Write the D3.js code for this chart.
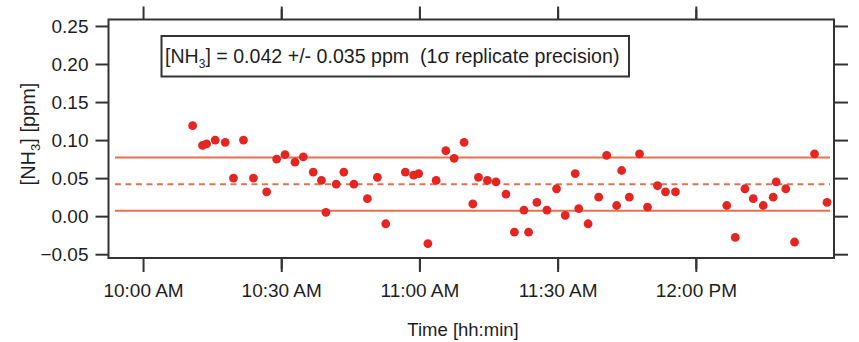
<!DOCTYPE html>
<html>
<head>
<meta charset="utf-8">
<script src="https://cdn.jsdelivr.net/npm/d3@7"></script>
<style>
  body { margin: 0; background: #fff; }
  text { font-family: "Liberation Sans", Arial, Helvetica, sans-serif; fill: #1e1e1e; }
</style>
</head>
<body>
<svg id="chart"></svg>
<script>
// measurement times (hh:mm:ss) and NH3 values in ppm
const times = [
  "10:10:46", "10:12:55", "10:13:47", "10:15:40", "10:17:50", "10:19:38", "10:21:48", "10:23:58",
  "10:26:50", "10:29:00", "10:30:49", "10:32:59", "10:34:47", "10:36:57", "10:38:44", "10:39:42",
  "10:41:56", "10:43:35", "10:45:46", "10:48:42", "10:50:52", "10:52:41", "10:56:56", "10:58:44",
  "10:59:50", "11:01:50", "11:03:38", "11:05:44", "11:07:32", "11:09:42", "11:11:35", "11:12:49",
  "11:14:46", "11:16:37", "11:18:47", "11:20:37", "11:22:41", "11:23:42", "11:25:30", "11:27:40",
  "11:29:46", "11:31:39", "11:33:49", "11:34:35", "11:36:37", "11:38:55", "11:40:39", "11:42:49",
  "11:43:54", "11:45:34", "11:47:47", "11:49:31", "11:51:41", "11:53:25", "11:55:35", "12:06:43",
  "12:08:34", "12:10:40", "12:12:28", "12:14:38", "12:16:48", "12:17:27", "12:19:32", "12:21:26",
  "12:25:46", "12:28:29"
];
const nh3 = [
  0.119, 0.093, 0.095, 0.100, 0.097, 0.050, 0.100, 0.050,
  0.032, 0.075, 0.081, 0.071, 0.078, 0.058, 0.047, 0.005,
  0.042, 0.058, 0.042, 0.023, 0.051, -0.010, 0.058, 0.054,
  0.056, -0.036, 0.047, 0.086, 0.076, 0.097, 0.016, 0.051,
  0.047, 0.045, 0.029, -0.021, 0.008, -0.021, 0.018, 0.008,
  0.036, 0.001, 0.056, 0.010, -0.010, 0.025, 0.080, 0.014,
  0.060, 0.025, 0.082, 0.012, 0.040, 0.032, 0.032, 0.014,
  -0.028, 0.036, 0.023, 0.014, 0.025, 0.045, 0.036, -0.034,
  0.082, 0.018
];

// mean and +/- 1 sigma lines
const meanValue = 0.042;
const sigmaValue = 0.035;
const lineSpan = ["09:53:54", "12:29:08"];

const yTicks = [-0.05, 0, 0.05, 0.10, 0.15, 0.20, 0.25];
const xDomain = ["09:52:30", "12:30:00"];
const yDomain = [-0.055, 0.2585];

const width = 859, height = 342;
const margin = { top: 19.5, right: 25, bottom: 84, left: 108.5 };

const parseTime = d3.timeParse("%H:%M:%S");
const data = times.map((t, i) => ({ t: parseTime(t), v: nh3[i] }));

const svg = d3.select("#chart").attr("width", width).attr("height", height);

const x = d3.scaleTime()
  .domain(xDomain.map(parseTime))
  .range([margin.left, width - margin.right]);

const y = d3.scaleLinear()
  .domain(yDomain)
  .range([height - margin.bottom, margin.top]);

const axisColor = "#333";
const lineColor = "#e5714f";
const dotColor = "#e42521";

// reference lines
const x0 = x(parseTime(lineSpan[0])), x1 = x(parseTime(lineSpan[1]));
const refLines = [
  { v: meanValue + sigmaValue, dash: null },
  { v: meanValue, dash: "6,4.5" },
  { v: meanValue - sigmaValue, dash: null }
];
svg.selectAll(".ref")
  .data(refLines)
  .enter()
  .append("line")
  .attr("class", "ref")
  .attr("x1", x0).attr("x2", x1)
  .attr("y1", d => y(d.v)).attr("y2", d => y(d.v))
  .style("stroke", lineColor)
  .style("stroke-width", 2)
  .style("stroke-dasharray", d => d.dash);

// points
svg.selectAll(".dot")
  .data(data)
  .enter()
  .append("circle")
  .attr("class", "dot")
  .attr("cx", d => x(d.t))
  .attr("cy", d => y(d.v))
  .attr("r", 4.4)
  .style("fill", dotColor);

// axes
function styleAxis(g) {
  g.select(".domain").remove();
  g.selectAll(".tick line").attr("stroke", axisColor).attr("stroke-width", 2);
  g.selectAll(".tick text")
    .style("font-family", "'Liberation Sans', Arial, sans-serif")
    .style("font-size", "19px")
    .attr("fill", "#1e1e1e");
}

const majorTicks = d3.timeMinute.every(30).range(parseTime("10:00:00"), parseTime("12:00:01"));
const minorTicks = d3.timeMinute.every(30).range(parseTime("10:15:00"), parseTime("12:15:01"));
const fmt = d3.timeFormat("%-I:%M %p");

const bottomY = height - margin.bottom;

svg.append("g")
  .attr("transform", `translate(0,${bottomY})`)
  .call(d3.axisBottom(x).tickValues(majorTicks).tickFormat(fmt).tickSize(14).tickPadding(12))
  .call(styleAxis);
svg.append("g")
  .attr("transform", `translate(0,${bottomY})`)
  .call(d3.axisBottom(x).tickValues(minorTicks).tickFormat("").tickSize(11))
  .call(styleAxis);
svg.append("g")
  .attr("transform", `translate(0,${margin.top})`)
  .call(d3.axisTop(x).tickValues(majorTicks).tickFormat("").tickSize(13))
  .call(styleAxis);
svg.append("g")
  .attr("transform", `translate(0,${margin.top})`)
  .call(d3.axisTop(x).tickValues(minorTicks).tickFormat("").tickSize(10))
  .call(styleAxis);

svg.append("g")
  .attr("transform", `translate(${margin.left},0)`)
  .call(d3.axisLeft(y).tickValues(yTicks).tickFormat(d3.format(".2f")).tickSize(13).tickPadding(7))
  .call(styleAxis);
svg.append("g")
  .attr("transform", `translate(${width - margin.right},0)`)
  .call(d3.axisRight(y).tickValues(yTicks).tickFormat("").tickSize(14))
  .call(styleAxis);

// plot frame
svg.append("rect")
  .attr("x", margin.left)
  .attr("y", margin.top)
  .attr("width", width - margin.right - margin.left)
  .attr("height", bottomY - margin.top)
  .style("fill", "none")
  .style("stroke", axisColor)
  .style("stroke-width", 2);

// annotation box
svg.append("rect")
  .attr("x", 161.5).attr("y", 36)
  .attr("width", 467.5).attr("height", 40.5)
  .style("fill", "#fff")
  .style("stroke", axisColor)
  .style("stroke-width", 2);

const note = svg.append("text")
  .attr("x", 165).attr("y", 63)
  .style("white-space", "pre")
  .style("font-size", "19.6px");
note.append("tspan").text("[NH");
note.append("tspan").attr("dy", 5).style("font-size", "12px").text("3");
note.append("tspan").attr("dy", -5).text("] = 0.042 +/- 0.035 ppm  (1σ replicate precision)");

// axis labels
svg.append("text")
  .attr("x", 463)
  .attr("y", 336)
  .attr("text-anchor", "middle")
  .style("font-size", "18.5px")
  .text("Time [hh:min]");

const yl = svg.append("text")
  .attr("transform", "rotate(-90)")
  .attr("x", -134)
  .attr("y", 35)
  .attr("text-anchor", "middle")
  .style("font-size", "20px");
yl.append("tspan").text("[NH");
yl.append("tspan").attr("dy", 5).style("font-size", "13px").text("3");
yl.append("tspan").attr("dy", -5).text("] [ppm]");
</script>
</body>
</html>
